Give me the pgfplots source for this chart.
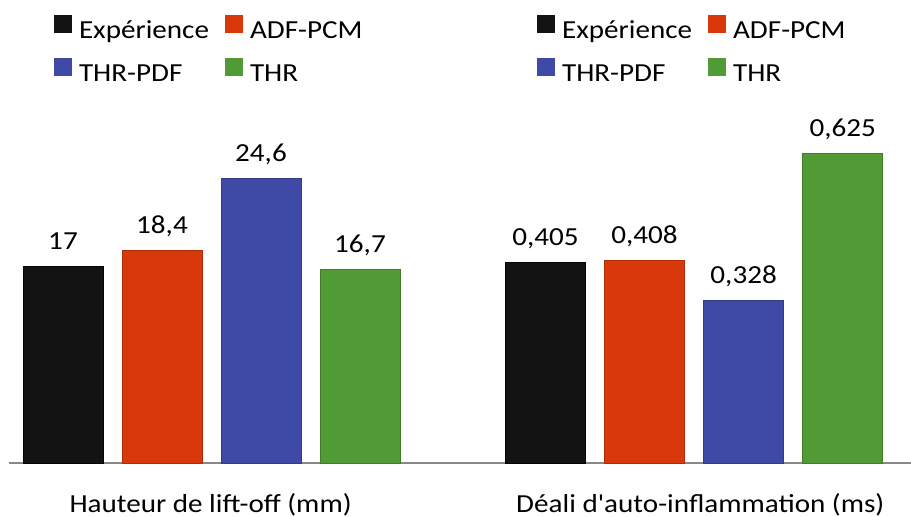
\documentclass[border=0pt]{standalone}
\usepackage{fontspec}
\setmainfont[FakeStretch=1.12, Ligatures=TeXOff]{Carlito}
\usepackage{pgfplots}
\pgfplotsset{compat=1.18}
\definecolor{cBlack}{HTML}{131313}
\definecolor{cRed}{HTML}{D9380A}
\definecolor{cBlue}{HTML}{3E4AA6}
\definecolor{cGreen}{HTML}{509B35}
\definecolor{cBase}{HTML}{888888}
\newcommand{\fs}{\fontsize{13}{15.6}\selectfont}
\pgfplotsset{
  panel/.style={
    scale only axis,
    anchor=south west,
    height=173.5pt,
    ymin=0,
    axis x line=bottom,
    axis y line=none,
    x axis line style={-, draw=cBase, line width=0.8pt},
    xtick=\empty, ytick=\empty,
    ybar, bar width=40pt, bar shift=0pt,
    clip=false,
    point meta=explicit symbolic,
    nodes near coords,
    every node near coord/.append style={font=\fs, anchor=base, yshift=8.5pt, text=black},
    legend columns=2,
    legend cell align=left,
    legend image code/.code={\path[##1, draw=none] (0pt,-0.5pt) rectangle (9pt,8.5pt);},
    legend style={draw=none, fill=none, font=\fs, inner sep=0pt, outer sep=0pt,
      anchor=west, row sep=7pt,
      nodes={inner xsep=3.5pt, inner ysep=0pt, text height=9pt, text depth=3pt},
      /tikz/every even column/.append style={column sep=4.5pt}},
    xlabel style={font=\fs, anchor=base, yshift=-24.5pt},
  },
  bK/.style={fill=cBlack, draw=black!80!cBlack, line width=0.4pt},
  bR/.style={fill=cRed, draw=cRed!80!black, line width=0.4pt},
  bB/.style={fill=cBlue, draw=cBlue!80!black, line width=0.4pt},
  bG/.style={fill=cGreen, draw=cGreen!80!black, line width=0.4pt},
}
\begin{document}
\begin{tikzpicture}
\useasboundingbox (0pt,-26.5pt) rectangle (455.5pt,231.5pt);
\begin{axis}[panel, at={(4.5pt,0pt)}, width=223pt, xmin=0.4545, xmax=4.96, ymax=30,
  legend style={at={(axis description cs:0.1009,1.187)}},
  xlabel={Hauteur de lift-off (mm)},
  xlabel style={at={(axis description cs:0.452,0)}}]
\addplot[bK] coordinates {(1,17) [17]};
\addplot[bR] coordinates {(2,18.4) [18,4]};
\addplot[bB] coordinates {(3,24.6) [24,6]};
\addplot[bG] coordinates {(4,16.7) [16,7]};
\legend{Expérience, ADF-PCM, THR-PDF, THR}
\end{axis}
\begin{axis}[panel, at={(227.5pt,0pt)}, width=228pt, xmin=0.086, xmax=4.69, ymax=0.7,
  legend style={at={(axis description cs:0.180,1.187)}},
  xlabel={Déali d'auto-inflammation (ms)},
  xlabel style={at={(axis description cs:0.538,0)}}]
\addplot[bK] coordinates {(1,0.405) [0,405]};
\addplot[bR] coordinates {(2,0.408) [0,408]};
\addplot[bB] coordinates {(3,0.328) [0,328]};
\addplot[bG] coordinates {(4,0.625) [0,625]};
\legend{Expérience, ADF-PCM, THR-PDF, THR}
\end{axis}
\end{tikzpicture}
\end{document}
